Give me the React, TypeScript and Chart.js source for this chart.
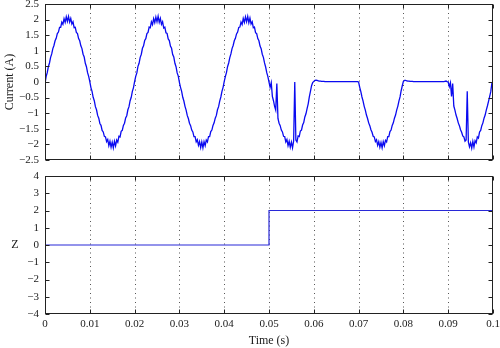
import React, { useEffect, useRef } from 'react';
import { Chart, registerables } from 'chart.js';

Chart.register(...registerables);

// ---- data ----
const sampleStep = 0.00025; // s between current samples
const segmentLength = 0.01; // each array below covers 0.01 s (40 samples)

const current0 = [
  -0.05, 0.17, 0.30, 0.49, 0.61, 0.79, 0.90, 1.07, 1.17, 1.32,
  1.40, 1.55, 1.60, 1.75, 1.75, 1.92, 1.85, 2.03, 1.91, 2.09,
  1.94, 2.10, 1.92, 2.04, 1.86, 1.93, 1.74, 1.75, 1.59, 1.55,
  1.39, 1.32, 1.16, 1.07, 0.89, 0.80, 0.60, 0.49, 0.30, 0.18,
];
const current1 = [
  0.01, -0.18, -0.30, -0.49, -0.60, -0.79, -0.89, -1.07, -1.16, -1.33,
  -1.39, -1.55, -1.60, -1.74, -1.76, -1.91, -1.84, -2.04, -1.90, -2.09,
  -1.93, -2.11, -1.90, -2.05, -1.86, -1.93, -1.74, -1.76, -1.58, -1.55,
  -1.39, -1.32, -1.15, -1.08, -0.89, -0.79, -0.60, -0.49, -0.30, -0.18,
];
const current2 = [
  0.01, 0.18, 0.29, 0.50, 0.60, 0.79, 0.89, 1.08, 1.16, 1.33,
  1.39, 1.55, 1.59, 1.76, 1.74, 1.93, 1.84, 2.03, 1.90, 2.08,
  1.93, 2.11, 1.91, 2.04, 1.85, 1.93, 1.73, 1.76, 1.58, 1.56,
  1.38, 1.33, 1.15, 1.08, 0.88, 0.80, 0.60, 0.49, 0.29, 0.19,
];
const current3 = [
  -0.01, -0.17, -0.30, -0.49, -0.61, -0.78, -0.90, -1.07, -1.17, -1.32,
  -1.40, -1.54, -1.60, -1.75, -1.75, -1.92, -1.85, -2.03, -1.91, -2.10,
  -1.92, -2.11, -1.91, -2.04, -1.86, -1.92, -1.75, -1.75, -1.59, -1.54,
  -1.39, -1.31, -1.16, -1.07, -0.89, -0.79, -0.61, -0.48, -0.30, -0.17,
];
const current4 = [
  0.01, 0.17, 0.30, 0.49, 0.61, 0.78, 0.90, 1.07, 1.17, 1.32,
  1.40, 1.54, 1.60, 1.75, 1.76, 1.92, 1.84, 2.04, 1.91, 2.09,
  1.93, 2.10, 1.90, 2.05, 1.86, 1.93, 1.74, 1.76, 1.58, 1.55,
  1.39, 1.32, 1.15, 1.07, 0.89, 0.79, 0.61, 0.48, 0.30, 0.17,
];
const current5 = [
  0.00, -0.17, -0.02, -0.46, -0.60, -0.78, -0.90, -0.05, -1.17, -1.32,
  -1.40, -1.54, -1.60, -1.74, -1.75, -1.92, -1.84, -2.04, -1.90, -2.09,
  -1.93, -2.11, -1.89, 0.00, -1.86, -1.92, -1.73, -1.75, -1.57, -1.54,
  -1.38, -1.30, -1.12, -1.02, -0.85, -0.70, -0.48, -0.30, -0.12, -0.02,
];
const current6 = [
  0.02, 0.05, 0.06, 0.05, 0.04, 0.03, 0.03, 0.02, 0.02, 0.02,
  0.01, 0.01, 0.01, 0.01, 0.01, 0.01, 0.01, 0.01, 0.01, 0.01,
  0.01, 0.01, 0.01, 0.01, 0.01, 0.01, 0.01, 0.01, 0.01, 0.01,
  0.01, 0.01, 0.01, 0.01, 0.01, 0.01, 0.01, 0.01, 0.01, 0.01,
];
const current7 = [
  0.00, -0.17, -0.31, -0.48, -0.61, -0.78, -0.90, -1.06, -1.17, -1.31,
  -1.40, -1.53, -1.61, -1.74, -1.76, -1.91, -1.85, -2.03, -1.91, -2.09,
  -1.94, -2.11, -1.91, -2.04, -1.87, -1.92, -1.75, -1.75, -1.59, -1.54,
  -1.39, -1.31, -1.16, -1.06, -0.90, -0.78, -0.61, -0.48, -0.28, -0.12,
];
const current8 = [
  0.02, 0.05, 0.05, 0.04, 0.03, 0.03, 0.02, 0.02, 0.02, 0.01,
  0.01, 0.01, 0.01, 0.01, 0.01, 0.01, 0.01, 0.01, 0.01, 0.01,
  0.01, 0.01, 0.01, 0.01, 0.01, 0.01, 0.01, 0.01, 0.01, 0.01,
  0.01, 0.01, 0.01, 0.01, 0.01, 0.01, 0.01, 0.02, 0.03, 0.01,
];
const current9 = [
  0.00, -0.15, -0.02, -0.46, -0.05, -0.77, -0.90, -1.06, -1.17, -1.31,
  -1.40, -1.53, -1.61, -1.73, -1.76, -1.90, -1.86, -0.30, -1.92, -2.08,
  -1.95, -2.12, -1.90, -2.08, -1.88, -1.95, -1.76, -1.80, -1.60, -1.55,
  -1.40, -1.31, -1.16, -1.06, -0.90, -0.77, -0.62, -0.47, -0.31, -0.04,
];
const currentLast = [0.00];

const zTimes = [0, 0.05, 0.1];
const zValues = [0, 2, 2];

const xTickValues = [0, 0.01, 0.02, 0.03, 0.04, 0.05, 0.06, 0.07, 0.08, 0.09, 0.1];
const xTickLabels = ['0', '0.01', '0.02', '0.03', '0.04', '0.05', '0.06', '0.07', '0.08', '0.09', '0.1'];
const currentTickValues = [-2.5, -2, -1.5, -1, -0.5, 0, 0.5, 1, 1.5, 2, 2.5];
const currentTickLabels = ['\u22122.5', '\u22122', '\u22121.5', '\u22121', '\u22120.5', '0', '0.5', '1', '1.5', '2', '2.5'];
const zTickValues = [-4, -3, -2, -1, 0, 1, 2, 3, 4];
const zTickLabels = ['\u22124', '\u22123', '\u22122', '\u22121', '0', '1', '2', '3', '4'];

const FONT = "'Liberation Serif', 'Times New Roman', serif";
const TEXT = '#1a1a1a';

const currentSegments = [current0, current1, current2, current3, current4, current5, current6, current7, current8, current9, currentLast];
const currentPoints = currentSegments.flatMap((seg, k) =>
  seg.map((y, i) => ({ x: k * segmentLength + i * sampleStep, y }))
);
const zPoints = zTimes.map((x, i) => ({ x, y: zValues[i] }));

function framePlugin(yTicks: number[], label?: string) {
  return {
    id: 'matlabFrame',
    beforeDatasetsDraw(chart: any) {
      const { ctx, chartArea } = chart;
      const xs = chart.scales.x;
      ctx.save();
      ctx.strokeStyle = '#555';
      ctx.lineWidth = 1;
      ctx.setLineDash([1, 3.5]);
      xTickValues.slice(1, -1).forEach((v) => {
        const px = Math.round(xs.getPixelForValue(v)) + 0.5;
        ctx.beginPath();
        ctx.moveTo(px, chartArea.top);
        ctx.lineTo(px, chartArea.bottom);
        ctx.stroke();
      });
      ctx.restore();
    },
    afterDatasetsDraw(chart: any) {
      const { ctx, chartArea } = chart;
      const xs = chart.scales.x;
      const ys = chart.scales.y;
      const l = Math.round(chartArea.left) + 0.5;
      const r = Math.round(chartArea.right) - 0.5;
      const t = Math.round(chartArea.top) + 0.5;
      const b = Math.round(chartArea.bottom) - 0.5;
      ctx.save();
      ctx.strokeStyle = '#222';
      ctx.lineWidth = 1;
      ctx.setLineDash([]);
      ctx.strokeRect(l, t, r - l, b - t);
      const tl = 4;
      ctx.beginPath();
      yTicks.forEach((v) => {
        const py = Math.round(ys.getPixelForValue(v)) + 0.5;
        ctx.moveTo(l, py);
        ctx.lineTo(l + tl, py);
        ctx.moveTo(r, py);
        ctx.lineTo(r - tl, py);
      });
      xTickValues.forEach((v) => {
        const px = Math.round(xs.getPixelForValue(v)) + 0.5;
        ctx.moveTo(px, b);
        ctx.lineTo(px, b - tl);
        ctx.moveTo(px, t);
        ctx.lineTo(px, t + tl);
      });
      ctx.stroke();
      if (label) {
        ctx.fillStyle = TEXT;
        ctx.font = `12px ${FONT}`;
        ctx.textAlign = 'center';
        ctx.textBaseline = 'middle';
        ctx.fillText(label, 15, (chartArea.top + chartArea.bottom) / 2);
      }
      ctx.restore();
    },
  };
}

function yScale(min: number, max: number, values: number[], labels: string[], title?: string) {
  return {
    type: 'linear',
    min,
    max,
    grid: { display: false, drawTicks: false },
    border: { display: false },
    afterBuildTicks: (s: any) => {
      s.ticks = values.map((v) => ({ value: v }));
    },
    ticks: {
      autoSkip: false,
      padding: 6,
      color: TEXT,
      font: { family: FONT, size: 11 },
      callback: (_v: any, i: number) => labels[i],
    },
    title: title
      ? { display: true, text: title, color: TEXT, font: { family: FONT, size: 12 }, padding: { top: 3, bottom: 0 } }
      : { display: false },
    afterFit: (s: any) => {
      s.width = 45;
      s.paddingTop = 0;
      s.paddingBottom = 0;
    },
  };
}

function xScale(showLabels: boolean) {
  return {
    type: 'linear',
    min: 0,
    max: 0.1,
    grid: { display: false, drawTicks: false },
    border: { display: false },
    afterBuildTicks: (s: any) => {
      s.ticks = xTickValues.map((v) => ({ value: v }));
    },
    ticks: {
      display: showLabels,
      autoSkip: false,
      maxRotation: 0,
      padding: 4,
      color: TEXT,
      font: { family: FONT, size: 11 },
      callback: (_v: any, i: number) => xTickLabels[i],
    },
    title: showLabels
      ? { display: true, text: 'Time (s)', color: TEXT, font: { family: FONT, size: 12 }, padding: { top: 0, bottom: 0 } }
      : { display: false },
    afterFit: (s: any) => {
      s.height = showLabels ? 34 : 0;
      s.paddingLeft = 0;
      s.paddingRight = 0;
    },
  };
}

export default function App() {
  const topRef = useRef<HTMLCanvasElement>(null);
  const botRef = useRef<HTMLCanvasElement>(null);

  useEffect(() => {
    const top = new Chart(topRef.current!, {
      type: 'line',
      data: {
        datasets: [
          {
            data: currentPoints,
            borderColor: 'rgb(10,10,240)',
            borderWidth: 1.3,
            pointRadius: 0,
            tension: 0,
            fill: false,
          },
        ],
      },
      options: {
        animation: false,
        responsive: false,
        devicePixelRatio: 1,
        layout: { padding: { top: 4, right: 7, bottom: 8, left: 0 } },
        plugins: { legend: { display: false }, tooltip: { enabled: false } },
        scales: {
          x: xScale(false) as any,
          y: yScale(-2.5, 2.5, currentTickValues, currentTickLabels, 'Current (A)') as any,
        },
      },
      plugins: [framePlugin(currentTickValues)],
    });

    const bot = new Chart(botRef.current!, {
      type: 'line',
      data: {
        datasets: [
          {
            data: zPoints,
            borderColor: 'rgb(40,40,215)',
            borderWidth: 1.2,
            pointRadius: 0,
            stepped: 'before',
            fill: false,
          },
        ],
      },
      options: {
        animation: false,
        responsive: false,
        devicePixelRatio: 1,
        layout: { padding: { top: 8, right: 7, bottom: 0, left: 0 } },
        plugins: { legend: { display: false }, tooltip: { enabled: false } },
        scales: {
          x: xScale(true) as any,
          y: yScale(-4, 4, zTickValues, zTickLabels) as any,
        },
      },
      plugins: [framePlugin(zTickValues, 'Z')],
    });

    return () => {
      top.destroy();
      bot.destroy();
    };
  }, []);

  return (
    <div style={{ position: 'fixed', left: 0, top: 0, width: 500, height: 348, background: '#fff' }}>
      <canvas ref={topRef} width={500} height={168} style={{ display: 'block', width: 500, height: 168 }} />
      <canvas ref={botRef} width={500} height={180} style={{ display: 'block', width: 500, height: 180 }} />
    </div>
  );
}
